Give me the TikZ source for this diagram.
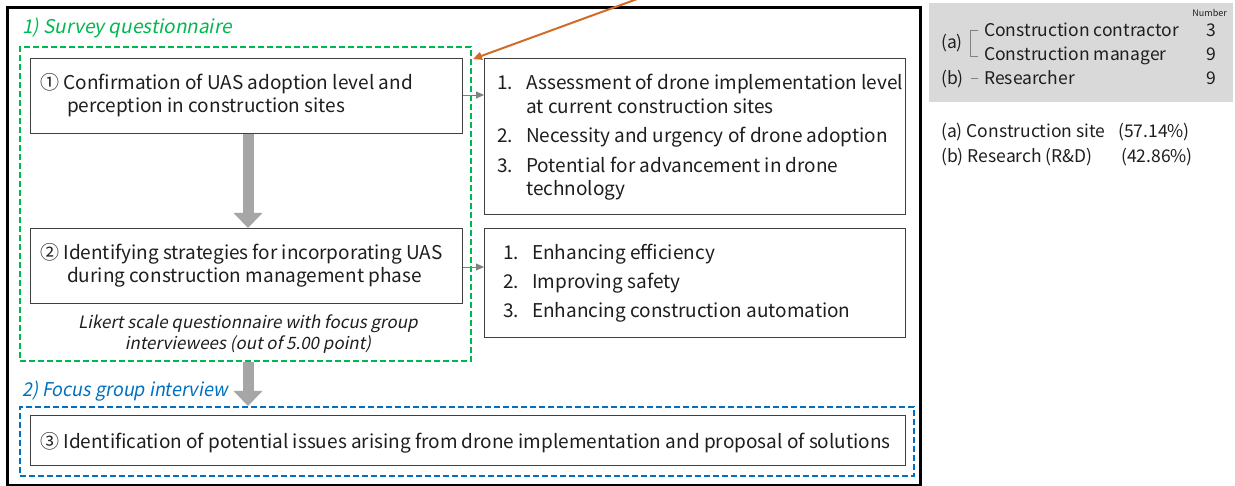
\documentclass[tikz,border=0pt]{standalone}
\usepackage{fontspec}
\setmainfont{Noto Sans CJK KR}
\newfontfamily\slfont[FakeSlant=0.2]{Noto Sans CJK KR}
\usetikzlibrary{arrows.meta,calc}

\definecolor{sqgreen}{RGB}{0,184,80}
\definecolor{fgblue}{RGB}{0,112,192}
\definecolor{boxline}{RGB}{64,64,64}
\definecolor{flowgray}{RGB}{166,166,166}
\definecolor{tipgray}{RGB}{128,128,128}
\definecolor{legendfill}{RGB}{217,217,217}
\definecolor{linkorange}{RGB}{208,108,40}
\definecolor{txt}{RGB}{30,30,30}

\tikzset{
  box/.style={draw=boxline, line width=1.4pt, inner sep=0pt, anchor=north west},
  groupbox/.style={dashed, dash pattern=on 6pt off 3pt, line width=2pt, inner sep=0pt, anchor=north west},
  txtline/.style={anchor=base west, inner sep=0pt, text=txt, font=\fontsize{19}{23}\selectfont},
  legline/.style={anchor=base west, inner sep=0pt, text=txt, font=\fontsize{17.5}{21}\selectfont},
  grptitle/.style={anchor=base west, inner sep=0pt, font=\slfont\fontsize{19}{23}\selectfont},
  noteline/.style={anchor=base, inner sep=0pt, text=txt, font=\slfont\fontsize{17}{20}\selectfont},
  bigarrow/.style={draw=flowgray, line width=11pt, -{Triangle[width=28pt,length=15pt]}},
  smallarrow/.style={draw=tipgray, line width=0.9pt, -{Triangle[width=7pt,length=8pt]}},
}

\begin{document}
\begin{tikzpicture}[x=1pt,y=-1pt]
\useasboundingbox (0,0) rectangle (1235,486);
\fill[white] (0,0) rectangle (1235,486);

% outer frame
\node[draw=black, line width=3pt, anchor=north west, inner sep=0pt,
      minimum width=913pt, minimum height=478pt] (frame) at (6,6) {};

% group frames
\node[groupbox, draw=sqgreen, minimum width=451pt, minimum height=314pt] (grpA) at (19,46) {};
\node[groupbox, draw=fgblue, minimum width=894pt, minimum height=69pt] (grpB) at (19,406) {};
\node[grptitle, text=sqgreen] (titleA) at (22,34) {1) Survey questionnaire};
\node[grptitle, text=fgblue] (titleB) at (22,397) {\scalebox{0.945}[1]{2) Focus group interview}};

% step boxes
\node[box, minimum width=432pt, minimum height=75pt] (b1) at (30,58) {};
\node[box, minimum width=432pt, minimum height=75pt] (b2) at (30,228) {};
\node[box, minimum width=875pt, minimum height=50pt] (b3) at (30,415) {};
\node[box, minimum width=421pt, minimum height=156pt] (bA) at (484,58) {};
\node[box, minimum width=421pt, minimum height=109pt] (bB) at (484,228) {};

% step texts
\node[txtline] (t1a) at (40,90) {① Confirmation of UAS adoption level and};
\node[txtline] (t1b) at (67,113) {perception in construction sites};
\node[txtline] (t2a) at (40,260) {② Identifying strategies for incorporating UAS};
\node[txtline] (t2b) at (67,283) {during construction management phase};
\node[txtline] (t3) at (40,448) {③ Identification of potential issues arising from drone implementation and proposal of solutions};

\node[noteline] (lik1) at (248,329) {Likert scale questionnaire with focus group};
\node[noteline] (lik2) at (248,350) {interviewees (out of 5.00 point)};

% item lists
\node[txtline] (nA1) at (497,90) {1.};
\node[txtline] (iA1a) at (526,90) {Assessment of drone implementation level};
\node[txtline] (iA1b) at (526,114) {at current construction sites};
\node[txtline] (nA2) at (497,143) {2.};
\node[txtline] (iA2) at (526,143) {Necessity and urgency of drone adoption};
\node[txtline] (nA3) at (497,173) {3.};
\node[txtline] (iA3a) at (526,173) {Potential for advancement in drone};
\node[txtline] (iA3b) at (526,196) {technology};

\node[txtline] (nB1) at (503,260) {1.};
\node[txtline] (iB1) at (532,260) {Enhancing efficiency};
\node[txtline] (nB2) at (503,289) {2.};
\node[txtline] (iB2) at (532,289) {Improving safety};
\node[txtline] (nB3) at (503,318) {3.};
\node[txtline] (iB3) at (532,318) {Enhancing construction automation};

% flow arrows
\draw[bigarrow] (b1.south -| 248,0) -- (b2.north -| 248,0);
\draw[bigarrow] (grpA.south -| 248,0) -- (grpB.north -| 248,0);
\draw[smallarrow] (b1.east |- 0,95) -- (bA.west |- 0,95);
\draw[smallarrow] (b2.east |- 0,267) -- (bB.west |- 0,267);

% link arrow entering from above
\coordinate (linksrc) at (640,-2);
\coordinate (linktgt) at ($(grpA.north east)+(1,13)$);
\draw[linkorange, line width=2pt, -{Triangle[width=8pt,length=9pt]}] (linksrc) -- (linktgt);

% participants legend
\node[fill=legendfill, anchor=north west, inner sep=0pt, minimum width=304pt, minimum height=99pt] (leg) at (929,3) {};
\node[anchor=base east, inner sep=0pt, text=txt, font=\fontsize{9}{10}\selectfont] (numhead) at (1227,17) {Number};
\node[legline] (la) at (941,49) {(a)};
\node[legline] (lb) at (941,85) {(b)};
\node[legline] (lc1) at (984,37) {Construction contractor};
\node[legline] (lc2) at (984,61) {Construction manager};
\node[legline] (lc3) at (984,85) {Researcher};
\node[legline, anchor=base east] (n1) at (1216,37) {3};
\node[legline, anchor=base east] (n2) at (1216,61) {9};
\node[legline, anchor=base east] (n3) at (1216,85) {9};
\draw[tipgray, line width=0.8pt] (lc1.west |- 0,30) ++(-6,0) -- (970,30) -- (970,56) -- ($(lc2.west |- 0,56)+(-6,0)$);
\draw[tipgray, line width=0.8pt] (971,78) -- (978,78);

\node[legline] (sa) at (941,138) {(a) Construction site};
\node[legline] (sap) at (1118,138) {(57.14\%)};
\node[legline] (sb) at (941,163) {(b) Research (R\&D)};
\node[legline] (sbp) at (1121,163) {(42.86\%)};
\end{tikzpicture}
\end{document}
